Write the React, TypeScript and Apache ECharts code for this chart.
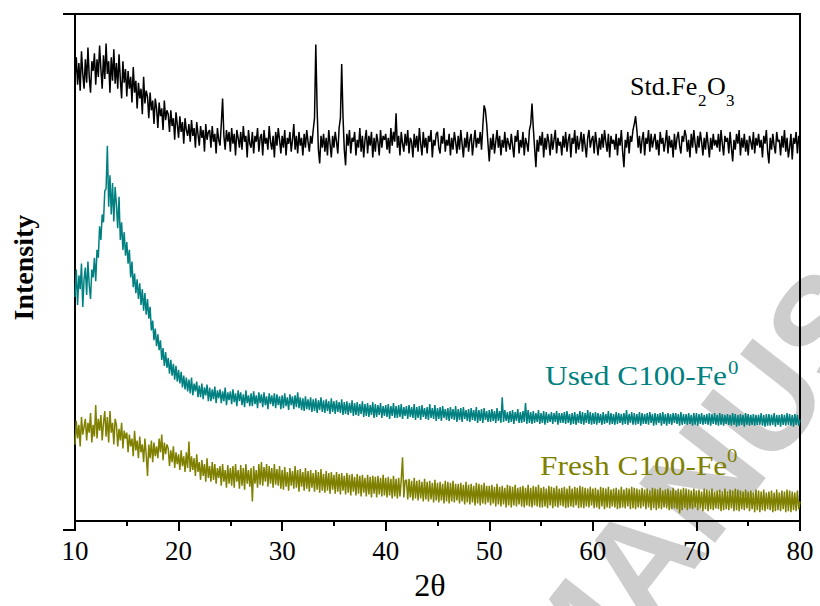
import React, { useEffect, useRef } from "react";
import * as echarts from "echarts";

// 2θ sampling grid: 10° to 80° in 0.125° steps (561 points), one row per degree
const THETA_START = 10;
const THETA_STEP = 0.125;

// Intensities (a.u.)
const stdFe2O3 = [
  450,472,444,466,438,478,455,440, 470,446,482,452,436,468,458,476,
  444,470,452,484,460,440,474,450, 486,455,468,436,472,448,480,445,
  466,440,475,450,430,468,446,460, 432,458,440,452,426,462,436,448,
  420,446,430,440,414,452,425,438, 432,410,436,418,428,404,430,420,
  400,426,412,420,398,428,408,418, 414,396,418,402,410,388,416,404,
  390,412,396,406,384,410,398,392, 404,386,408,392,400,380,406,394,
  382,402,390,398,376,404,388,396, 398,380,402,386,394,374,400,388,
  382,404,430,392,378,398,386,396, 376,400,384,394,372,398,390,380,
  396,378,402,386,392,370,398,384, 380,396,374,392,386,400,376,390,
  394,372,398,384,390,378,402,386, 378,392,370,396,382,400,388,374,
  392,380,398,372,390,384,396,376, 388,404,378,392,374,396,382,390,
  372,394,380,398,386,376,392,384, 398,410,485,420,378,364,392,380,
  394,376,390,372,398,384,370,392, 380,396,386,374,400,410,465,412,
  378,362,394,382,398,374,390,386, 396,372,388,380,400,376,392,370,
  388,398,374,392,382,396,370,390, 376,394,386,372,398,380,392,388,
  394,378,390,374,400,382,396,386, 415,380,392,372,396,384,376,394,
  382,398,374,390,386,370,394,380, 392,376,400,384,372,396,380,390,
  374,392,386,398,370,388,382,394, 396,380,374,392,384,400,376,388,
  382,394,372,390,378,396,386,374, 392,378,398,384,370,390,380,396,
  376,388,394,372,386,398,380,390, 384,396,378,402,423,418,404,384,
  366,390,378,394,374,386,398,380, 392,372,388,380,396,376,390,384,
  378,394,382,370,392,386,398,374, 388,380,396,372,390,384,376,398,
  404,425,400,380,360,388,376,392, 382,396,370,390,378,394,386,372,
  394,378,388,398,374,390,382,386, 372,392,380,396,376,388,394,370,
  390,384,398,374,392,378,386,396, 376,394,382,370,390,398,380,388,
  392,374,396,384,372,390,378,394, 380,398,386,376,394,370,392,384,
  388,378,394,372,390,382,398,376, 360,388,380,396,374,392,386,398,
  404,412,398,380,392,374,388,396, 372,390,384,398,376,394,380,388,
  394,378,388,372,396,384,390,376, 386,398,374,392,380,388,370,394,
  378,390,396,382,374,392,386,398, 392,376,388,370,394,380,398,384,
  374,392,380,396,386,372,390,378, 396,384,370,390,378,394,382,388,
  380,394,376,398,384,372,392,386, 390,374,396,380,366,388,378,394,
  384,398,372,390,380,394,376,388, 372,392,386,378,396,374,390,382,
  394,380,388,370,392,384,398,376, 364,390,378,394,382,374,396,386,
  388,372,392,380,398,376,390,370, 380,394,368,390,384,396,374,392,
  382
];

const usedC100Fe = [
  228,256,220,250,236,262,218,246, 258,230,264,240,226,256,248,268,
  244,276,268,300,286,312,304,336, 338,382,320,352,312,344,305,340,
  322,298,330,286,304,276,294,270, 284,262,276,248,264,238,252,232,
  246,226,242,220,236,214,232,210, 226,206,218,194,204,184,196,178,
  190,174,184,164,176,158,172,156, 166,150,164,148,160,144,158,142,
  154,140,152,136,148,134,146,132, 144,130,146,128,140,132,142,126,
  138,126,140,124,136,128,139,122, 136,122,134,124,137,120,133,125,
  134,120,132,122,136,118,131,123, 132,119,134,121,130,117,133,122,
  131,118,129,116,133,120,128,117, 130,117,132,119,128,115,131,120,
  129,116,131,118,127,114,130,119, 128,117,130,115,129,118,127,114,
  128,115,130,117,126,113,129,118, 127,114,128,116,131,115,126,113,
  125,112,127,114,124,113,126,111, 124,112,125,110,123,113,126,111,
  123,110,124,112,122,109,125,111, 122,109,123,111,121,110,124,108,
  121,109,122,108,120,110,123,107, 120,108,121,107,119,109,122,106,
  119,107,120,106,118,108,121,105, 119,106,118,108,120,105,117,107,
  118,106,119,104,117,107,120,105, 117,105,118,106,119,104,116,107,
  117,104,118,106,116,105,119,103, 116,105,117,103,118,106,115,104,
  116,103,119,105,115,104,118,102, 115,104,116,102,117,105,114,103,
  115,102,116,104,114,103,117,101, 114,103,115,101,116,104,113,102,
  114,101,115,103,113,102,116,100, 113,102,114,100,115,103,112,101,
  113,101,114,102,112,100,115,102, 112,100,126,101,113,102,111,100,
  112,101,113,99,111,102,114,100, 111,100,112,101,120,99,113,100,
  111,99,112,100,110,101,113,99, 110,100,112,98,111,100,109,101,
  111,99,110,101,112,98,110,100, 110,100,111,99,112,100,109,98,
  110,99,111,98,109,100,112,99, 111,98,110,100,113,99,111,98,
  110,99,111,98,110,100,109,98, 111,99,109,100,112,98,110,99,
  109,98,111,99,110,100,109,98, 110,99,113,98,109,100,111,98,
  110,98,109,99,111,97,110,99, 109,99,110,98,111,100,109,97,
  110,98,109,100,110,97,111,99, 109,97,110,99,109,98,110,100,
  110,99,109,97,111,98,109,99, 109,98,110,99,108,97,110,98,
  110,97,109,99,110,98,108,99, 109,98,110,97,109,99,110,98,
  108,97,110,98,109,97,108,99, 109,98,108,97,110,98,109,96,
  108,97,109,98,108,96,110,98, 109,97,108,98,109,97,108,98,
  108,98,110,97,108,96,109,97, 109,97,108,98,110,96,108,98,
  108,96,109,98,108,97,110,98, 109,97,108,96,109,98,108,97,
  103
];

const freshC100Fe = [
  78,102,84,98,76,106,88,96, 104,82,100,90,110,80,98,86,
  118,84,104,92,108,82,100,112, 86,106,80,112,90,100,78,104,
  98,76,94,82,100,74,92,84, 90,70,88,76,84,66,92,72,
  82,64,86,70,78,60,84,68, 46,78,64,82,60,80,66,76,
  64,84,70,88,62,80,68,78, 74,56,72,60,76,54,70,58,
  68,52,72,56,66,50,70,54, 81,50,66,52,64,46,68,50,
  60,42,62,46,58,40,64,44, 56,40,60,42,58,38,54,44,
  56,36,58,40,52,34,57,38, 54,36,56,34,58,40,52,33,
  57,36,54,32,58,38,52,35, 54,20,56,38,52,34,58,37,
  60,36,55,40,58,35,56,38, 54,34,58,37,53,36,56,33,
  52,32,55,35,50,31,54,36, 51,33,56,34,52,30,53,35,
  50,31,54,33,51,30,52,34, 49,30,52,32,50,29,53,31,
  48,29,51,31,49,28,50,32, 47,28,50,30,48,27,49,31,
  46,27,49,29,47,26,48,30, 45,26,48,28,46,25,47,29,
  44,25,47,27,45,24,46,28, 45,24,46,27,44,25,47,26,
  44,24,45,26,43,23,46,25, 43,23,44,25,42,65,24,41,
  42,22,43,24,41,21,44,23, 41,21,42,23,40,20,43,22,
  40,20,41,22,39,19,42,21, 39,19,40,21,38,18,41,20,
  40,18,39,20,41,19,38,21, 38,18,39,20,37,17,40,19,
  37,17,38,19,36,16,39,18, 38,16,37,18,39,17,36,19,
  36,16,37,18,35,15,38,17, 35,15,36,17,34,14,37,16,
  36,14,35,16,37,15,34,17, 35,15,36,14,34,16,37,15,
  34,14,36,16,35,15,37,14, 34,14,35,15,33,13,36,16,
  35,13,34,15,36,14,33,16, 34,15,35,13,33,14,36,15,
  33,14,35,16,34,13,36,14, 35,13,34,15,33,14,35,16,
  33,13,34,14,32,12,35,15, 34,12,33,14,35,13,32,15,
  33,14,34,12,32,13,35,14, 32,13,34,15,33,12,35,13,
  34,12,33,14,32,13,34,15, 32,12,33,14,31,11,34,13,
  33,11,32,13,34,12,31,14, 32,13,33,11,31,12,34,13,
  31,12,33,8,32,11,34,13, 33,11,32,13,31,12,33,14,
  31,11,32,13,30,10,33,12, 32,10,31,12,33,11,30,13,
  31,12,32,10,30,11,33,12, 30,11,32,13,31,10,33,11,
  32,10,31,12,30,11,32,13, 30,10,31,12,29,9,32,11,
  31,9,30,11,32,10,29,12, 30,11,31,9,29,10,32,11,
  29,10,31,12,30,9,32,10, 31,9,30,11,29,10,31,12,
  20
];

const seriesNames = ["Std.Fe2O3", "Used C100-Fe0", "Fresh C100-Fe0"];
const seriesColors = ["#000000", "#008080", "#808000"];

function toPairs(vals: number[]) {
  return vals.map((v, i) => [THETA_START + i * THETA_STEP, v]);
}

const SERIF = "Liberation Serif";

export default function App() {
  const ref = useRef<HTMLDivElement>(null);

  useEffect(() => {
    document.body.style.margin = "0";
    if (!ref.current) return;
    const chart = echarts.init(ref.current, undefined, { renderer: "svg" });
    const datasets = [stdFe2O3, usedC100Fe, freshC100Fe];

    const txt = (x: number, y: number, text: string, size: number, color: string, scaleX = 1) => ({
      type: "text",
      x,
      y,
      scaleX,
      z: 10,
      style: {
        text,
        fontSize: size,
        fontFamily: SERIF,
        fill: color,
        align: "left",
        textAlign: "left",
        verticalAlign: "middle",
        textVerticalAlign: "middle",
      },
    });

    chart.setOption({
      animation: false,
      textStyle: { fontFamily: SERIF },
      grid: {
        left: 75,
        right: 20,
        top: 14,
        bottom: 76,
        show: true,
        borderColor: "#000",
        borderWidth: 2,
        backgroundColor: "transparent",
      },
      xAxis: {
        type: "value",
        min: 10,
        max: 80,
        interval: 10,
        name: "2θ",
        nameLocation: "middle",
        nameGap: 40,
        nameTextStyle: { fontSize: 32, color: "#000", fontFamily: SERIF, padding: [0, 15, 0, 0] },
        axisLine: { show: true, lineStyle: { color: "#000", width: 2 } },
        axisTick: { show: true, inside: false, length: 10, lineStyle: { color: "#000", width: 2 } },
        minorTick: { show: true, splitNumber: 2, length: 5, lineStyle: { color: "#000", width: 2 } },
        axisLabel: { fontSize: 27, color: "#000", margin: 16, fontFamily: SERIF },
        splitLine: { show: false },
        minorSplitLine: { show: false },
      },
      yAxis: {
        type: "value",
        min: 0,
        max: 516,
        name: "Intensity",
        nameLocation: "middle",
        nameRotate: 90,
        nameGap: 38,
        nameTextStyle: { fontSize: 28, fontWeight: "bold", color: "#000", fontFamily: SERIF },
        axisLine: { show: true, lineStyle: { color: "#000", width: 2 } },
        axisTick: { show: false },
        axisLabel: { show: false },
        splitLine: { show: false },
      },
      series: datasets.map((d, k) => ({
        name: seriesNames[k],
        type: "line",
        data: toPairs(d),
        showSymbol: false,
        symbol: "none",
        lineStyle: { color: seriesColors[k], width: 1.5 },
        itemStyle: { color: seriesColors[k] },
        z: 3,
      })),
      graphic: [
        {
          type: "text",
          x: 537,
          y: 692,
          rotation: 0.9076,
          z: -10,
          silent: true,
          style: {
            text: "MANUSCRIPT",
            fontSize: 140,
            fontWeight: "bold",
            fontFamily: "Liberation Sans",
            fill: "#cdcdcd",
            align: "left",
            textAlign: "left",
            verticalAlign: "middle",
            textVerticalAlign: "middle",
          },
        },
        { type: "line", shape: { x1: 63, y1: 14, x2: 76, y2: 14 }, style: { stroke: "#000", lineWidth: 2 } },
        { type: "line", shape: { x1: 63, y1: 530, x2: 76, y2: 530 }, style: { stroke: "#000", lineWidth: 2 } },
        txt(630, 86, "Std.Fe", 26, "#000"),
        txt(698, 100, "2", 17, "#000"),
        txt(707, 86, "O", 26, "#000"),
        txt(726, 100, "3", 17, "#000"),
        txt(545, 376, "Used C100-Fe", 28, "#008080", 1.12),
        txt(728, 367, "0", 19, "#008080", 1.1),
        txt(540, 466, "Fresh C100-Fe", 28, "#808000", 1.12),
        txt(727, 455, "0", 19, "#808000", 1.1),
      ],
    });
    return () => chart.dispose();
  }, []);

  return <div ref={ref} style={{ width: 820, height: 606 }} />;
}
